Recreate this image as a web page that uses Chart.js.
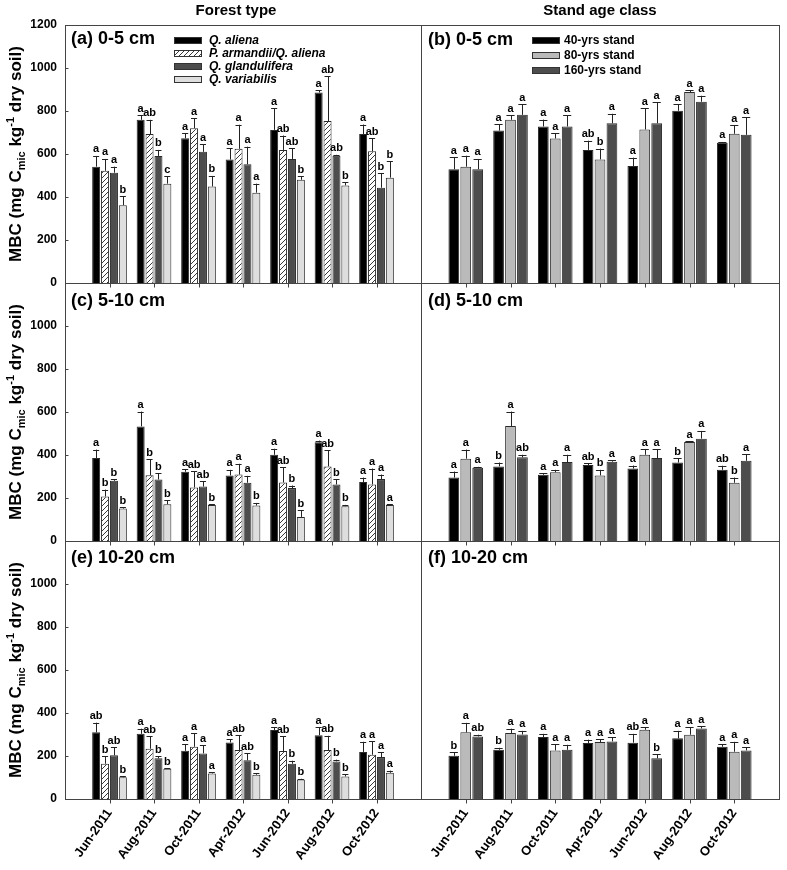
<!DOCTYPE html>
<html>
<head>
<meta charset="utf-8">
<script src="https://cdn.jsdelivr.net/npm/chart.js@4.4.1/dist/chart.umd.min.js"></script>
<style>
body { margin: 0; background: #fff; font-family: "Liberation Sans", Arial, sans-serif; }
#wrap { position: relative; width: 787px; height: 870px; overflow: hidden; background: #fff; }
#wrap canvas { position: absolute; }
.head { position: absolute; top: 1px; font-weight: bold; font-size: 15px; transform: translateX(-50%); white-space: nowrap; color: #000; }
.ylab { position: absolute; font-weight: bold; font-size: 17px; line-height: 1; white-space: nowrap; color: #000;
        transform: translate(-50%, -50%) rotate(-90deg); }
.ylab sub, .ylab sup { font-size: 11px; line-height: 0; }
</style>
</head>
<body>
<div id="wrap">
  <canvas id="pa"></canvas>
  <canvas id="pb"></canvas>
  <canvas id="pc"></canvas>
  <canvas id="pd"></canvas>
  <canvas id="pe"></canvas>
  <canvas id="pf"></canvas>
  <div class="head" style="left:236px">Forest type</div>
  <div class="head" style="left:600px">Stand age class</div>
  <div class="ylab" style="left:15px;top:154px">MBC (mg C<sub>mic</sub> kg<sup>-1</sup> dry soil)</div>
  <div class="ylab" style="left:15px;top:412px">MBC (mg C<sub>mic</sub> kg<sup>-1</sup> dry soil)</div>
  <div class="ylab" style="left:15px;top:670px">MBC (mg C<sub>mic</sub> kg<sup>-1</sup> dry soil)</div>
</div>
<script>
const months = ['Jun-2011', 'Aug-2011', 'Oct-2011', 'Apr-2012', 'Jun-2012', 'Aug-2012', 'Oct-2012'];
const forestTypes = ['Q. aliena', 'P. armandii/Q. aliena', 'Q. glandulifera', 'Q. variabilis'];
const standAges = ['40-yrs stand', '80-yrs stand', '160-yrs stand'];

// (a) forest type, 0-5 cm
const mbcA = [
  [541, 759, 673, 574, 712, 886, 693],
  [522, 693, 720, 624, 619, 753, 613],
  [513, 591, 610, 552, 577, 592, 443],
  [362, 462, 449, 420, 480, 454, 490]
];
const seA = [
  [50, 22, 24, 53, 101, 10, 44],
  [55, 66, 47, 112, 67, 208, 60],
  [28, 28, 35, 82, 50, 4, 67],
  [41, 34, 49, 42, 16, 14, 76]
];
const letA = [
  ['a', 'a', 'a', 'a', 'a', 'a', 'a'],
  ['a', 'ab', 'a', 'a', 'ab', 'ab', 'ab'],
  ['a', 'b', 'a', 'a', 'ab', 'ab', 'b'],
  ['b', 'c', 'b', 'a', 'b', 'b', 'b']
];

// (b) stand age, 0-5 cm
const mbcB = [
  [529, 709, 728, 619, 544, 801, 652],
  [541, 759, 672, 575, 714, 888, 694],
  [529, 782, 728, 743, 743, 843, 689]
];
const seB = [
  [57, 30, 32, 43, 39, 31, 4],
  [51, 22, 25, 50, 99, 9, 40],
  [48, 50, 53, 44, 97, 28, 82]
];
const letB = [
  ['a', 'a', 'a', 'ab', 'a', 'a', 'a'],
  ['a', 'a', 'a', 'b', 'a', 'a', 'a'],
  ['a', 'a', 'a', 'a', 'a', 'a', 'a']
];

// (c) forest type, 5-10 cm
const mbcC = [
  [386, 533, 322, 305, 401, 459, 274],
  [207, 306, 249, 309, 272, 347, 263],
  [280, 286, 253, 271, 246, 263, 288],
  [151, 171, 168, 165, 112, 162, 168]
];
const seC = [
  [39, 69, 11, 26, 28, 8, 21],
  [32, 75, 76, 50, 70, 74, 74],
  [8, 28, 24, 32, 12, 25, 21],
  [5, 19, 3, 12, 30, 6, 3]
];
const letC = [
  ['a', 'a', 'a', 'a', 'a', 'a', 'a'],
  ['b', 'b', 'ab', 'a', 'ab', 'ab', 'a'],
  ['b', 'b', 'ab', 'a', 'b', 'b', 'a'],
  ['b', 'b', 'b', 'b', 'b', 'b', 'a']
];

// (d) stand age, 5-10 cm
const mbcD = [
  [295, 347, 308, 353, 337, 365, 331],
  [383, 535, 320, 305, 401, 460, 271],
  [341, 389, 367, 369, 386, 476, 373]
];
const seD = [
  [28, 18, 8, 8, 14, 21, 19],
  [42, 67, 11, 26, 27, 5, 24],
  [4, 12, 34, 7, 42, 36, 30]
];
const letD = [
  ['a', 'b', 'a', 'ab', 'a', 'b', 'ab'],
  ['a', 'a', 'a', 'b', 'a', 'a', 'b'],
  ['a', 'ab', 'a', 'a', 'a', 'a', 'a']
];

// (e) forest type, 10-20 cm
const mbcE = [
  [310, 303, 224, 263, 321, 297, 219],
  [164, 234, 243, 228, 223, 228, 206],
  [203, 189, 212, 180, 164, 175, 195],
  [101, 141, 119, 113, 91, 105, 122]
];
const seE = [
  [45, 24, 31, 16, 13, 37, 47],
  [36, 57, 63, 69, 68, 66, 62],
  [38, 9, 37, 34, 14, 8, 23],
  [6, 3, 5, 8, 3, 11, 10]
];
const letE = [
  ['ab', 'a', 'a', 'a', 'a', 'a', 'a'],
  ['b', 'ab', 'a', 'ab', 'ab', 'ab', 'a'],
  ['ab', 'b', 'a', 'ab', 'b', 'b', 'a'],
  ['b', 'b', 'a', 'b', 'b', 'b', 'a']
];

// (f) stand age, 10-20 cm
const mbcF = [
  [201, 229, 288, 260, 262, 282, 243],
  [310, 307, 226, 265, 322, 299, 220],
  [291, 300, 229, 268, 189, 328, 226]
];
const seF = [
  [17, 9, 15, 16, 41, 35, 12],
  [44, 20, 29, 14, 12, 34, 46],
  [8, 17, 23, 20, 20, 11, 15]
];
const letF = [
  ['b', 'b', 'a', 'a', 'ab', 'a', 'a'],
  ['a', 'a', 'a', 'a', 'a', 'a', 'a'],
  ['ab', 'a', 'a', 'a', 'b', 'a', 'a']
];

const FONT = "'Liberation Sans', Arial, sans-serif";

// canvas placement and plot box, page px
const COLS = [{cl: 0, w: 445, l: 65, r: 421, yAxis: true}, {cl: 390, w: 420, l: 421, r: 779, yAxis: false}];
const ROWS = [{ct: 0, h: 305, t: 25, b: 283}, {ct: 258, h: 305, t: 283, b: 541}, {ct: 516, h: 354, t: 541, b: 799}];

const panels = [
  {id: 'pa', col: 0, row: 0, kind: 'forest', mean: mbcA, se: seA, let: letA, title: '(a) 0-5 cm', tx: 71, ty: 44},
  {id: 'pb', col: 1, row: 0, kind: 'stand', mean: mbcB, se: seB, let: letB, title: '(b) 0-5 cm', tx: 428, ty: 45},
  {id: 'pc', col: 0, row: 1, kind: 'forest', mean: mbcC, se: seC, let: letC, title: '(c) 5-10 cm', tx: 71, ty: 306},
  {id: 'pd', col: 1, row: 1, kind: 'stand', mean: mbcD, se: seD, let: letD, title: '(d) 5-10 cm', tx: 428, ty: 306},
  {id: 'pe', col: 0, row: 2, kind: 'forest', mean: mbcE, se: seE, let: letE, title: '(e) 10-20 cm', tx: 71, ty: 563},
  {id: 'pf', col: 1, row: 2, kind: 'stand', mean: mbcF, se: seF, let: letF, title: '(f) 10-20 cm', tx: 428, ty: 563}
];

function hatch(ctx) {
  const c = document.createElement('canvas');
  c.width = 5; c.height = 5;
  const g = c.getContext('2d');
  g.fillStyle = '#fff';
  g.fillRect(0, 0, 5, 5);
  g.strokeStyle = '#222';
  g.lineWidth = 0.9;
  g.beginPath();
  g.moveTo(0, 5); g.lineTo(5, 0);
  g.moveTo(-1, 1); g.lineTo(1, -1);
  g.moveTo(4, 6); g.lineTo(6, 4);
  g.stroke();
  return ctx.createPattern(c, 'repeat');
}

function makeDeco(p, fills, names, col, row) {
  const ox = col.cl, oy = row.ct;
  return {
    id: 'deco',
    afterDatasetsDraw(chart) {
      const g = chart.ctx, a = chart.chartArea, ys = chart.scales.y, xs = chart.scales.x;
      g.save();
      // error bars + letters
      chart.data.datasets.forEach((ds, i) => {
        const meta = chart.getDatasetMeta(i);
        meta.data.forEach((bar, j) => {
          if (j === 0 || j === months.length + 1) return;
          const k = j - 1;
          const top = ys.getPixelForValue(p.mean[i][k] + p.se[i][k]);
          const half = bar.width * 0.38;
          g.strokeStyle = '#222';
          g.lineWidth = 1;
          g.beginPath();
          g.moveTo(Math.round(bar.x) + 0.5, bar.y);
          g.lineTo(Math.round(bar.x) + 0.5, top);
          g.moveTo(bar.x - half, Math.round(top) + 0.5);
          g.lineTo(bar.x + half, Math.round(top) + 0.5);
          g.stroke();
          g.fillStyle = '#000';
          g.font = 'bold 11px ' + FONT;
          g.textAlign = 'center';
          g.textBaseline = 'bottom';
          g.fillText(p.let[i][k], bar.x, top - 1);
        });
      });
      // frame
      g.strokeStyle = '#444';
      g.lineWidth = 1;
      const L = Math.round(a.left) + 0.5, T = Math.round(a.top) + 0.5;
      const R = Math.round(a.right) + 0.5, B = Math.round(a.bottom) + 0.5;
      g.strokeRect(L, T, R - L, B - T);
      // x tick marks
      g.beginPath();
      months.forEach((m, k) => {
        const x = Math.round(xs.getPixelForValue(k + 1)) + 0.5;
        g.moveTo(x, B); g.lineTo(x, B + 4);
      });
      // inward y tick marks on the left column
      if (col.yAxis) {
        [200, 400, 600, 800, 1000].forEach(v => {
          const y = Math.round(ys.getPixelForValue(v)) + 0.5;
          g.moveTo(L, y); g.lineTo(L + 3, y);
        });
      }
      g.stroke();
      g.restore();
    },
    afterDraw(chart) {
      const g = chart.ctx;
      g.save();
      g.fillStyle = '#000';
      g.font = 'bold 18px ' + FONT;
      g.textAlign = 'left';
      g.textBaseline = 'alphabetic';
      g.fillText(p.title, p.tx - ox, p.ty - oy);
      if (p.row === 0) {
        const forest = p.kind === 'forest';
        const sx = (forest ? 174 : 532) - ox, sw = 28;
        const tx = (forest ? 209 : 564) - ox;
        const y0 = forest ? 40 : 40.5, dy = forest ? 13 : 15;
        names.forEach((n, i) => {
          const cy = y0 + i * dy - oy;
          g.fillStyle = fills[i];
          g.fillRect(sx, Math.round(cy - 3.5), sw, 7);
          g.strokeStyle = '#333';
          g.lineWidth = 1;
          g.strokeRect(sx + 0.5, Math.round(cy - 3.5) + 0.5, sw - 1, 6);
          g.fillStyle = '#000';
          g.font = (forest ? 'italic ' : '') + 'bold 12px ' + FONT;
          g.textBaseline = 'middle';
          g.fillText(n, tx, cy + 0.5);
        });
      }
      g.restore();
    }
  };
}

function build(p) {
  const col = COLS[p.col], row = ROWS[p.row];
  const cv = document.getElementById(p.id);
  cv.width = col.w; cv.height = row.h;
  cv.style.left = col.cl + 'px'; cv.style.top = row.ct + 'px';
  const ctx = cv.getContext('2d');
  const names = p.kind === 'forest' ? forestTypes : standAges;
  const fills = p.kind === 'forest'
    ? ['#000000', hatch(ctx), '#4d4d4d', '#dedede']
    : ['#000000', '#bababa', '#4d4d4d'];
  const labels = ['', ...months, ''];
  const datasets = names.map((n, i) => ({
    label: n,
    data: [null, ...p.mean[i], null],
    backgroundColor: fills[i],
    borderColor: '#2a2a2a',
    borderWidth: 1,
    categoryPercentage: 0.8,
    barPercentage: 0.9
  }));
  // wanted plot box in canvas px
  const want = {l: col.l - col.cl, t: row.t - row.ct, r: col.r - col.cl, b: row.b - row.ct};
  const st = {xh: row.h - want.b, yw: col.yAxis ? 65 : 0};
  const pad = {left: col.yAxis ? 0 : want.l, right: col.w - want.r, top: want.t, bottom: 0};
  const showX = p.row === 2;
  const chart = new Chart(ctx, {
    type: 'bar',
    data: {labels, datasets},
    options: {
      responsive: false,
      animation: false,
      events: [],
      layout: {padding: Object.assign({}, pad)},
      plugins: {legend: {display: false}, tooltip: {enabled: false}},
      scales: {
        x: {
          offset: false,
          grid: {display: false, drawTicks: false},
          border: {display: false},
          ticks: {
            display: showX, autoSkip: false, maxRotation: 55, minRotation: 55, padding: 7,
            color: '#000', font: {family: FONT, size: 13, weight: 'bold'}
          },
          afterFit: s => { s.height = st.xh; }
        },
        y: {
          display: col.yAxis,
          min: 0, max: 1200,
          grid: {display: false, drawTicks: false},
          border: {display: false},
          ticks: {
            stepSize: 200, padding: 8, color: '#000',
            font: {family: FONT, size: 12, weight: 'bold'},
            callback: v => (v === 1200 && p.row > 0) ? '' : v
          },
          afterFit: s => { s.width = st.yw; }
        }
      }
    },
    plugins: [makeDeco(p, fills, names, col, row)]
  });
  // nudge the layout until the plot box sits where the reference has it
  for (let it = 0; it < 4; it++) {
    const a = chart.chartArea;
    const dl = Math.round(want.l - a.left), dt = Math.round(want.t - a.top);
    const dr = Math.round(a.right - want.r), db = Math.round(a.bottom - want.b);
    if (!dl && !dt && !dr && !db) break;
    if (col.yAxis) st.yw = Math.max(0, st.yw + dl); else pad.left += dl;
    pad.top += dt;
    pad.right += dr;
    st.xh += db;
    chart.options.layout.padding = Object.assign({}, pad);
    chart.update();
  }
}

panels.forEach(build);
</script>
</body>
</html>
